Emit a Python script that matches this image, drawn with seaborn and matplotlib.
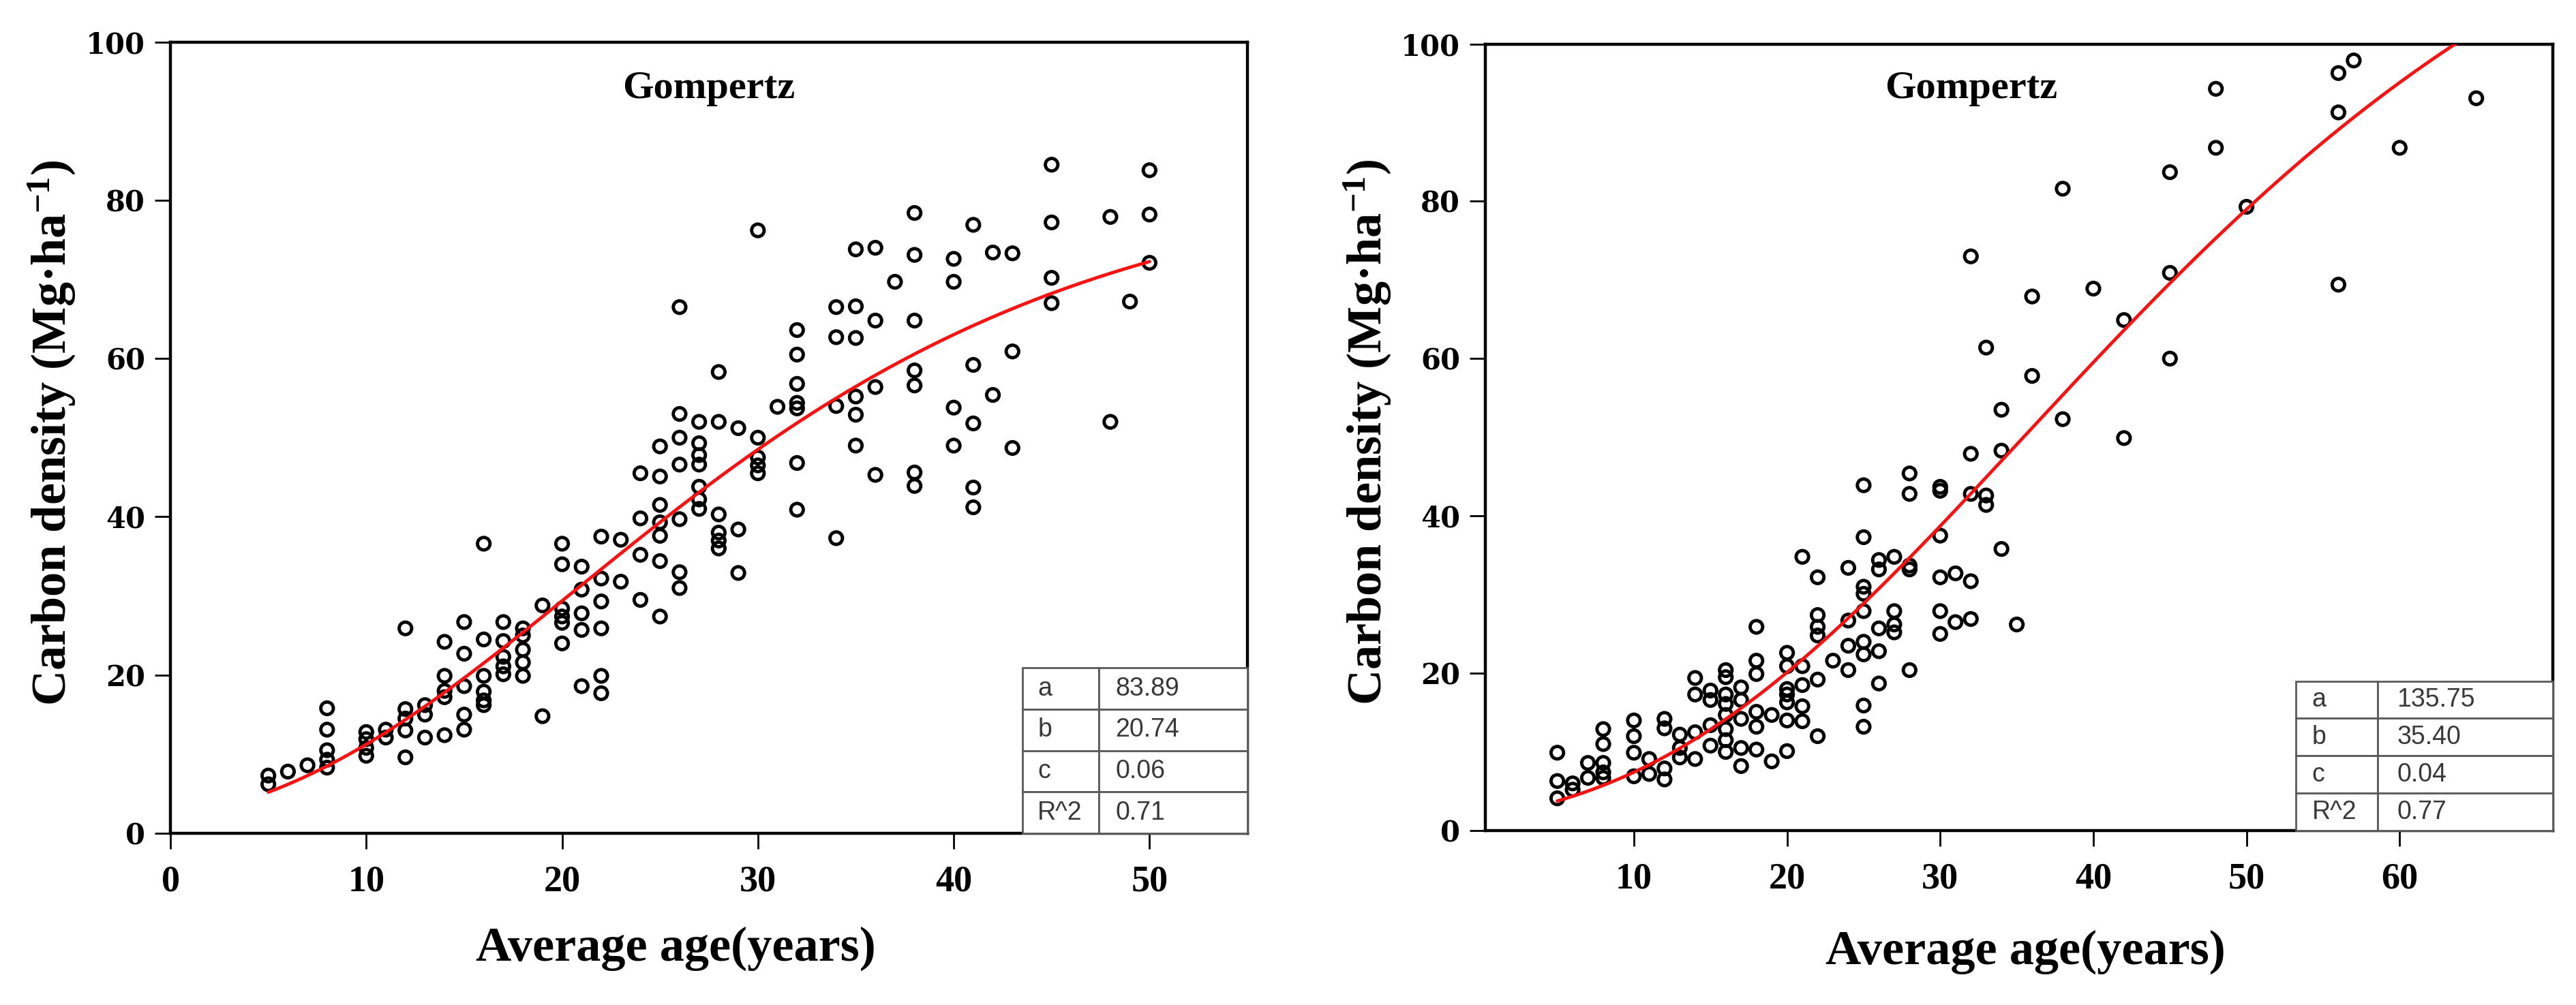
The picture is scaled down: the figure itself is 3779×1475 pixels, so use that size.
import numpy as np
import pandas as pd
import matplotlib
matplotlib.use("Agg")
import matplotlib.pyplot as plt
import seaborn as sns

# ---------------- data ----------------
left_age = [5, 5, 6, 7,
            8, 8, 8, 8, 8,
            10, 10, 10, 10,
            11, 11,
            12, 12, 12, 12, 12,
            13, 13, 13,
            14, 14, 14, 14, 14,
            15, 15, 15, 15, 15,
            16, 16, 16, 16, 16, 16,
            17, 17, 17, 17, 17,
            18, 18, 18, 18, 18,
            19, 19,
            20, 20, 20, 20, 20, 20,
            21, 21, 21, 21, 21,
            22, 22, 22, 22, 22, 22,
            23, 23,
            24, 24, 24, 24,
            25, 25, 25, 25, 25, 25, 25,
            26, 26, 26, 26, 26, 26, 26,
            27, 27, 27, 27, 27, 27, 27,
            28, 28, 28, 28, 28, 28,
            29, 29, 29,
            30, 30, 30, 30, 30,
            31,
            32, 32, 32, 32, 32, 32, 32,
            34, 34, 34, 34,
            35, 35, 35, 35, 35, 35,
            36, 36, 36, 36,
            37,
            38, 38, 38, 38, 38, 38, 38,
            40, 40, 40, 40,
            41, 41, 41, 41, 41,
            42, 42,
            43, 43, 43,
            45, 45, 45, 45,
            48, 48,
            49,
            50, 50, 50]
left_carbon = [7.3, 6.2, 7.8, 8.6,
               15.8, 13.1, 10.5, 9.3, 8.3,
               12.8, 11.9, 10.8, 9.8,
               13.1, 12.1,
               25.9, 15.7, 14.5, 13.0, 9.6,
               16.2, 15.0, 12.1,
               24.2, 19.9, 18.0, 17.2, 12.4,
               26.7, 22.7, 18.6, 15.0, 13.1,
               36.6, 24.5, 19.9, 17.9, 16.8, 16.2,
               26.7, 24.3, 22.3, 21.1, 20.1,
               25.9, 25.0, 23.2, 21.6, 19.9,
               28.8, 14.8,
               36.6, 34.0, 28.4, 27.4, 26.6, 24.0,
               33.7, 30.8, 27.8, 25.7, 18.6,
               37.5, 32.2, 29.3, 25.9, 19.9, 17.7,
               37.1, 31.8,
               45.5, 39.8, 35.2, 29.5,
               48.9, 45.1, 41.5, 39.3, 37.6, 34.4, 27.4,
               66.5, 53.0, 50.0, 46.6, 39.7, 33.0, 31.0,
               52.0, 49.3, 47.8, 46.6, 43.8, 42.2, 41.0,
               58.3, 52.0, 40.3, 38.0, 37.0, 36.0,
               51.2, 38.4, 32.9,
               76.2, 50.0, 47.5, 46.5, 45.5,
               53.9,
               63.6, 60.5, 56.8, 54.4, 53.7, 46.8, 40.9,
               66.5, 62.7, 54.0, 37.3,
               73.8, 66.6, 62.6, 55.2, 52.9, 49.0,
               74.0, 64.8, 56.4, 45.3,
               69.7,
               78.4, 73.1, 64.8, 58.5, 56.6, 45.6, 43.9,
               72.6, 69.7, 53.8, 49.0,
               76.9, 59.2, 51.8, 43.7, 41.2,
               73.4, 55.4,
               73.3, 60.9, 48.7,
               84.5, 77.2, 70.2, 67.0,
               77.9, 52.0,
               67.2,
               83.8, 78.2, 72.1]

right_age = [5, 5, 5,
             6, 6,
             7, 7,
             8, 8, 8, 8, 8,
             10, 10, 10, 10,
             11, 11,
             12, 12, 12, 12,
             13, 13, 13,
             14, 14, 14, 14,
             15, 15, 15, 15,
             16, 16, 16, 16, 16, 16, 16, 16,
             17, 17, 17, 17, 17,
             18, 18, 18, 18, 18, 18,
             19, 19,
             20, 20, 20, 20, 20, 20, 20,
             21, 21, 21, 21, 21,
             22, 22, 22, 22, 22, 22,
             23,
             24, 24, 24, 24,
             25, 25, 25, 25, 25, 25, 25, 25, 25,
             26, 26, 26, 26, 26,
             27, 27, 27, 27,
             28, 28, 28, 28, 28,
             30, 30, 30, 30, 30, 30,
             31, 31,
             32, 32, 32, 32, 32,
             33, 33, 33,
             34, 34, 34,
             35,
             36, 36,
             38, 38,
             40,
             42, 42,
             45, 45, 45,
             48, 48,
             50,
             56, 56, 56,
             57,
             60,
             65]
right_carbon = [9.9, 6.3, 4.1,
                6.0, 5.2,
                8.6, 6.7,
                12.9, 11.0, 8.6, 7.4, 6.7,
                14.0, 12.0, 9.9, 6.9,
                9.1, 7.2,
                14.2, 13.0, 7.9, 6.5,
                12.2, 10.5, 9.3,
                19.4, 17.3, 12.5, 9.1,
                17.8, 16.6, 13.4, 10.8,
                20.4, 19.5, 17.3, 16.1, 14.7, 12.9, 11.5, 10.0,
                18.2, 16.6, 14.2, 10.5, 8.2,
                25.9, 21.6, 19.9, 15.1, 13.2, 10.3,
                14.7, 8.8,
                22.6, 20.9, 18.0, 17.3, 16.3, 14.0, 10.1,
                34.8, 20.9, 18.5, 15.8, 13.9,
                32.2, 27.4, 25.9, 24.8, 19.2, 12.0,
                21.6,
                33.4, 26.7, 23.5, 20.4,
                43.9, 37.3, 31.0, 30.1, 27.9, 24.0, 22.4, 15.9, 13.2,
                34.4, 33.2, 25.7, 22.8, 18.7,
                34.8, 27.9, 26.2, 25.2,
                45.4, 42.8, 33.7, 33.2, 20.4,
                43.7, 43.2, 37.5, 32.2, 27.9, 25.0,
                32.7, 26.5,
                73.0, 47.9, 42.8, 31.7, 26.9,
                61.4, 42.6, 41.4,
                53.5, 48.3, 35.8,
                26.2,
                67.9, 57.8,
                81.6, 52.3,
                68.9,
                64.9, 49.9,
                83.7, 70.9, 60.0,
                94.3, 86.8,
                79.3,
                96.3, 91.3, 69.4,
                97.9,
                86.8,
                93.1]

# Gompertz fits y = a*exp(-exp(-c*(x-b))) (c)
left_fit = {"a": 83.89, "b": 20.74, "c": 0.065, "x0": 5, "x1": 50}
right_fit = {"a": 135.75, "b": 35.40, "c": 0.042, "x0": 5, "x1": 64}

param_names = ["a", "b", "c", "R^2"]
left_params = ["83.89", "20.74", "0.06", "0.71"]
right_params = ["135.75", "35.40", "0.04", "0.77"]

left_xticks = [0, 10, 20, 30, 40, 50]
right_xticks = [10, 20, 30, 40, 50, 60]
yticks = [0, 20, 40, 60, 80, 100]

title_text = "Gompertz"
xlabel_text = "Average age(years)"
ylabel_text = "Carbon density (Mg\u00b7ha$^{-1}$)"

# ---------------- style ----------------
sns.set_theme(style="white")
plt.rcParams["font.family"] = ["Liberation Serif", "DejaVu Serif"]
plt.rcParams["mathtext.fontset"] = "custom"
plt.rcParams["mathtext.rm"] = "Liberation Serif:bold"
plt.rcParams["mathtext.it"] = "Liberation Serif:bold"
plt.rcParams["mathtext.bf"] = "Liberation Serif:bold"
plt.rcParams["axes.unicode_minus"] = True

fig = plt.figure(figsize=(37.79, 14.75), dpi=100)
fig.patch.set_facecolor("white")
ax1 = fig.add_axes([0.06616, 0.17085, 0.41809, 0.78732])
ax2 = fig.add_axes([0.5766, 0.17356, 0.4144, 0.7827])


def gompertz(fit):
    xs = np.linspace(fit["x0"], fit["x1"], 300)
    ys = fit["a"] * np.exp(-np.exp(-fit["c"] * (xs - fit["b"])))
    return xs, ys


def draw(ax, ages, carbon, fit, params, xticks, xlim, title_pos, table_bbox,
         col_w, xlabel_pos, ylabel_pos):
    df = pd.DataFrame({"age": ages, "carbon": carbon})
    sns.scatterplot(data=df, x="age", y="carbon", ax=ax, marker="o", s=175,
                    facecolor="none", edgecolor="black", linewidth=3.5,
                    zorder=2)
    xs, ys = gompertz(fit)
    sns.lineplot(x=xs, y=ys, ax=ax, color="#ff1010", linewidth=3.5,
                 zorder=3, sort=False)
    ax.set_xlim(*xlim)
    ax.set_ylim(0, 100)
    ax.set_xticks(xticks)
    ax.set_yticks(yticks)
    ax.set_facecolor("white")
    for sp in ax.spines.values():
        sp.set_visible(True)
        sp.set_color("black")
        sp.set_linewidth(3.2)
    ax.tick_params(axis="both", which="major", direction="out", length=16.5,
                   width=2.0, color="black", bottom=True, left=True,
                   top=False, right=False)
    ax.tick_params(axis="x", pad=17)
    ax.tick_params(axis="y", pad=10)
    for lab in ax.get_xticklabels():
        lab.set_fontfamily("Liberation Serif")
        lab.set_fontweight("bold")
        lab.set_fontsize(39)
        lab.set_color("black")
    for lab in ax.get_yticklabels():
        lab.set_fontfamily("DejaVu Serif")
        lab.set_fontweight("bold")
        lab.set_fontsize(30)
        lab.set_color("black")
    ax.set_xlabel(xlabel_text, fontsize=52, fontweight="bold",
                  family="Liberation Serif", color="black", va="top")
    ax.set_ylabel(ylabel_text, fontsize=52, fontweight="bold",
                  family="Liberation Serif", color="black")
    ax.xaxis.set_label_coords(*xlabel_pos)
    ax.yaxis.set_label_coords(*ylabel_pos)
    ax.text(title_pos[0], title_pos[1], title_text, transform=ax.transAxes,
            ha="center", va="center", fontsize=42, fontweight="bold",
            family="Liberation Serif", color="black")

    rows = [[n, v] for n, v in zip(param_names, params)]
    tbl = ax.table(cellText=rows, cellLoc="left", colWidths=col_w,
                   bbox=table_bbox, zorder=6)
    tbl.auto_set_font_size(False)
    tbl.set_fontsize(27)
    for (r, c), cell in tbl.get_celld().items():
        cell.set_edgecolor("#5a5a5a")
        cell.set_linewidth(2.0)
        cell.set_facecolor("white")
        cell.PAD = 0.2 if c == 0 else 0.11
        t = cell.get_text()
        t.set_fontfamily("Liberation Sans")
        t.set_color("#383838")
    return tbl


draw(ax1, left_age, left_carbon, left_fit, left_params, left_xticks,
     (0, 55), (0.5, 0.941), [0.791, 0.0, 0.209, 0.209], [0.34, 0.66],
     (0.469, -0.118), (-0.087, 0.506))
draw(ax2, right_age, right_carbon, right_fit, right_params, right_xticks,
     (0.3, 70), (0.455, 0.943), [0.759, 0.0, 0.241, 0.19], [0.32, 0.68],
     (0.506, -0.126), (-0.087, 0.507))

fig.savefig("out.png", dpi=100, facecolor="white")
